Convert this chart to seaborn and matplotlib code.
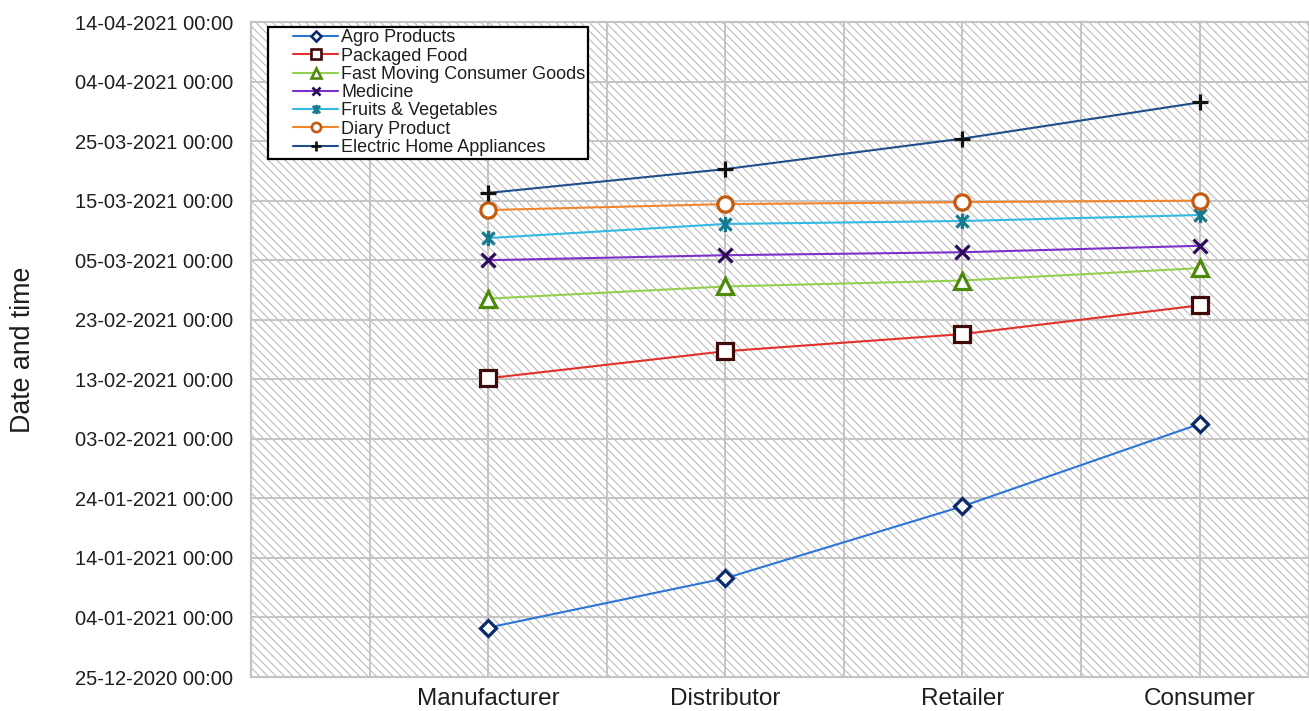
import matplotlib
matplotlib.use("Agg")
import matplotlib.pyplot as plt
import matplotlib.dates as mdates
from matplotlib.patches import Rectangle
from matplotlib.path import Path
from matplotlib.legend_handler import HandlerLine2D
from matplotlib.ticker import FixedLocator, MultipleLocator
import numpy as np
import pandas as pd
import seaborn as sns

# Supply-chain stages on the x axis
stages = ["Manufacturer", "Distributor", "Retailer", "Consumer"]

# Timestamp at which each product category reaches each stage
agro = ["2021-01-02 07:00", "2021-01-10 14:00", "2021-01-22 16:00", "2021-02-05 12:00"]
packaged = ["2021-02-13 04:00", "2021-02-17 17:00", "2021-02-20 14:00", "2021-02-25 10:00"]
fmcg = ["2021-02-26 13:00", "2021-02-28 14:00", "2021-03-01 14:00", "2021-03-03 16:00"]
medicine = ["2021-03-05 00:00", "2021-03-05 20:00", "2021-03-06 08:00", "2021-03-07 10:00"]
fruits = ["2021-03-08 17:00", "2021-03-11 02:00", "2021-03-11 14:00", "2021-03-12 14:00"]
diary = ["2021-03-13 10:00", "2021-03-14 10:00", "2021-03-14 18:00", "2021-03-15 00:00"]
electric = ["2021-03-16 07:00", "2021-03-20 07:00", "2021-03-25 10:00", "2021-03-31 12:00"]

series_names = ["Agro Products", "Packaged Food", "Fast Moving Consumer Goods",
                "Medicine", "Fruits & Vegetables", "Diary Product",
                "Electric Home Appliances"]
series_values = [agro, packaged, fmcg, medicine, fruits, diary, electric]

# Axis range and tick dates
y_start, y_end = "2020-12-25", "2021-04-14"
tick_dates = pd.date_range(y_start, y_end, freq="10D")

rows = []
for name, vals in zip(series_names, series_values):
    for i, (stage, v) in enumerate(zip(stages, vals)):
        rows.append({"series": name, "stage": stage, "pos": i,
                     "when": mdates.date2num(pd.Timestamp(v))})
df = pd.DataFrame(rows)

# Excel-style "star" marker: an X crossed by a vertical bar
star = Path([(-1, -1), (1, 1), (-1, 1), (1, -1), (0, -1.25), (0, 1.25)],
            [Path.MOVETO, Path.LINETO, Path.MOVETO, Path.LINETO, Path.MOVETO, Path.LINETO])

styles = {
    "Agro Products": dict(color="#2E75D6", marker="D", ms=8, mec="#0B2A6B", mfc="white"),
    "Packaged Food": dict(color="#E0312D", marker="s", ms=11, mec="#3F0A0A", mfc="white"),
    "Fast Moving Consumer Goods": dict(color="#92D050", marker="^", ms=11, mec="#4C8A0A", mfc="white"),
    "Medicine": dict(color="#7B30C8", marker="x", ms=10, mec="#2E0A5C", mfc="white"),
    "Fruits & Vegetables": dict(color="#33B8E0", marker=star, ms=11, mec="#16798D", mfc="white"),
    "Diary Product": dict(color="#F0852D", marker="o", ms=11, mec="#C55A11", mfc="white"),
    "Electric Home Appliances": dict(color="#1F4E8C", marker="+", ms=12, mec="#111111", mfc="white"),
}


class IndentedLineHandler(HandlerLine2D):
    """Legend line handle that starts a little to the right of the frame edge."""

    def __init__(self, indent=1.2, **kw):
        super().__init__(**kw)
        self.indent = indent

    def get_xdata(self, legend, xdescent, ydescent, width, height, fontsize):
        xdata, xdata_marker = super().get_xdata(legend, xdescent, ydescent,
                                                width, height, fontsize)
        start = -xdescent + self.indent * fontsize
        end = xdata[-1]
        return np.array([start, end]), np.array([(start + end) / 2])


sns.set_theme(style="white")
plt.rcParams["font.family"] = ["Liberation Sans", "DejaVu Sans"]
plt.rcParams["hatch.linewidth"] = 0.8
text_color = "#1e1e1e"

fig = plt.figure(figsize=(13.09, 7.11), dpi=100)
ax = fig.add_axes([251 / 1309, 1 - 677 / 711, 1 - 251 / 1309, 655 / 711])

# Diagonally hatched plot background
ax.add_patch(Rectangle((0, 0), 1, 1, transform=ax.transAxes, facecolor="white",
                       edgecolor="#bcbcbc", hatch="\\\\\\\\", lw=0, zorder=0))

for name in series_names:
    st = styles[name]
    sub = df[df["series"] == name]
    sns.lineplot(data=sub, x="pos", y="when", ax=ax, estimator=None, sort=False,
                 color=st["color"], lw=1.5, marker=st["marker"], markersize=st["ms"],
                 markeredgecolor=st["mec"], markerfacecolor=st["mfc"],
                 markeredgewidth=2.3, label=name, zorder=3)

ax.set_xlim(-1, (1309 - 487) / 237.5)
ax.set_ylim(mdates.date2num(pd.Timestamp(y_start)), mdates.date2num(pd.Timestamp(y_end)))

ax.xaxis.set_major_locator(FixedLocator(range(len(stages))))
ax.set_xticklabels(stages, fontsize=17.5, color=text_color)
ax.xaxis.set_minor_locator(MultipleLocator(0.5))
ax.yaxis.set_major_locator(FixedLocator(mdates.date2num(tick_dates)))
ax.yaxis.set_major_formatter(mdates.DateFormatter("%d-%m-%Y %H:%M"))
for lab in ax.get_yticklabels():
    lab.set_fontsize(14.5)
    lab.set_color(text_color)

grid_color = "#c4c4c4"
ax.grid(True, which="both", color=grid_color, lw=1.4, zorder=1)
ax.set_axisbelow(True)
for s in ax.spines.values():
    s.set_color(grid_color)
    s.set_linewidth(1.6)
ax.tick_params(axis="both", which="both", length=0)
ax.tick_params(axis="y", pad=13)
ax.tick_params(axis="x", pad=8)

ax.set_xlabel("")
ax.set_ylabel("Date and time", fontsize=19.3, color=text_color)
ax.yaxis.label.set_verticalalignment("center")
ax.yaxis.set_label_coords((23 - 251) / 1058, 0.5)

leg = ax.legend(loc="upper left", bbox_to_anchor=(0.016, 0.993), borderaxespad=0,
                fontsize=13, handlelength=3.75, handletextpad=0.15, labelspacing=0.07,
                borderpad=0.15, frameon=True, fancybox=False, framealpha=1,
                handler_map={matplotlib.lines.Line2D: IndentedLineHandler(indent=1.25)})
leg.get_frame().set_edgecolor("black")
leg.get_frame().set_linewidth(1.6)
for t in leg.get_texts():
    t.set_color(text_color)
for h in leg.legend_handles:
    h.set_markersize(h.get_markersize() * 0.6)
    h.set_markeredgewidth(1.9)
leg.set_zorder(5)

fig.savefig("out.png", dpi=100)
